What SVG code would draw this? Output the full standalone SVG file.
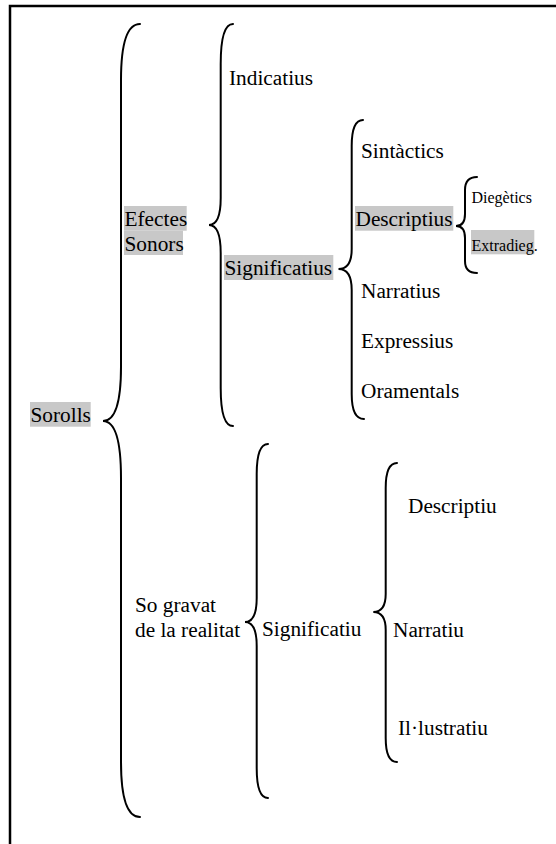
<svg xmlns="http://www.w3.org/2000/svg" width="556" height="844" viewBox="0 0 556 844">
<style>
  .t { font-size: 21.3px; }
  .s { font-size: 16px; }
  .hl { fill: #c8c8c8; }
  .brace { fill: none; stroke: #000; stroke-width: 2; stroke-linecap: round; }
  .frame { stroke: #000; stroke-width: 2.5; fill: none; }
</style>
<rect width="556" height="844" fill="#fff"/>
<path class="frame" d="M10,844 L10,6 L556,6"/>

<g id="connectors">
  <path class="brace" d="M140,24 Q121,24 121,80 L121,367 Q121,421 103,421 Q121,421 121,478 L121,762 Q121,817 140,817"/>
  <path class="brace" d="M233,24 Q220.7,24 220.7,64 L220.7,198 Q220.7,225 209,225 Q220.7,225 220.7,253 L220.7,388 Q220.7,426 233,426"/>
  <path class="brace" d="M363,120 Q351.7,120 351.7,146 L351.7,249 Q351.7,269 338.5,269 Q351.7,269 351.7,290 L351.7,394 Q351.7,419 364,419"/>
  <path class="brace" d="M477,177 Q465,177 465,190 L465,214 Q465,226 456,226 Q465,226 465,238 L465,261 Q465,273 477,273"/>
  <path class="brace" d="M268,444 Q256.7,444 256.7,474 L256.7,598 Q256.7,622 245,622 Q256.7,622 256.7,646 L256.7,768 Q256.7,798 268,798"/>
  <path class="brace" d="M397,463 Q385.7,463 385.7,488 L385.7,594 Q385.7,612 373.3,612 Q385.7,612 385.7,630 L385.7,738 Q385.7,762 397,762"/>
</g>

<g font-family="'Liberation Serif', 'Times New Roman', Times, 'DejaVu Serif', serif" fill="#000">
<g id="sorolls">
  <rect class="hl" x="30" y="402" width="60.7" height="24.7"/>
  <text class="t" x="30.5" y="421.5">Sorolls</text>
</g>
<g id="efectes-sonors">
  <rect class="hl" x="124" y="206" width="62.7" height="24.7"/>
  <rect class="hl" x="124" y="230.7" width="59" height="24.3"/>
  <text class="t" x="124.5" y="226">Efectes</text>
  <text class="t" x="124.5" y="250.5">Sonors</text>
</g>
<g id="indicatius">
  <text class="t" x="229" y="85">Indicatius</text>
</g>
<g id="significatius">
  <rect class="hl" x="224" y="255" width="109.3" height="25"/>
  <text class="t" x="224.5" y="275">Significatius</text>
</g>
<g id="sintactics">
  <text class="t" x="361" y="158">Sintàctics</text>
</g>
<g id="descriptius">
  <rect class="hl" x="355" y="206" width="98.3" height="24.7"/>
  <text class="t" x="355.5" y="226">Descriptius</text>
</g>
<g id="diegetics">
  <text class="s" x="471.5" y="202.5">Diegètics</text>
</g>
<g id="extradieg">
  <rect class="hl" x="471" y="230" width="63.3" height="24.3"/>
  <text class="s" x="471.5" y="250.5">Extradieg.</text>
</g>
<g id="narratius">
  <text class="t" x="361" y="298">Narratius</text>
</g>
<g id="expressius">
  <text class="t" x="361" y="348">Expressius</text>
</g>
<g id="oramentals">
  <text class="t" x="361" y="398">Oramentals</text>
</g>
<g id="so-gravat">
  <text class="t" x="135" y="611.7">So gravat</text>
  <text class="t" x="135" y="636.7">de la realitat</text>
</g>
<g id="significatiu">
  <text class="t" x="262" y="635.5">Significatiu</text>
</g>
<g id="descriptiu">
  <text class="t" x="408" y="513">Descriptiu</text>
</g>
<g id="narratiu">
  <text class="t" x="393" y="636.5">Narratiu</text>
</g>
<g id="illustratiu">
  <text class="t" x="398" y="735">Il·lustratiu</text>
</g>
</g>
</svg>
